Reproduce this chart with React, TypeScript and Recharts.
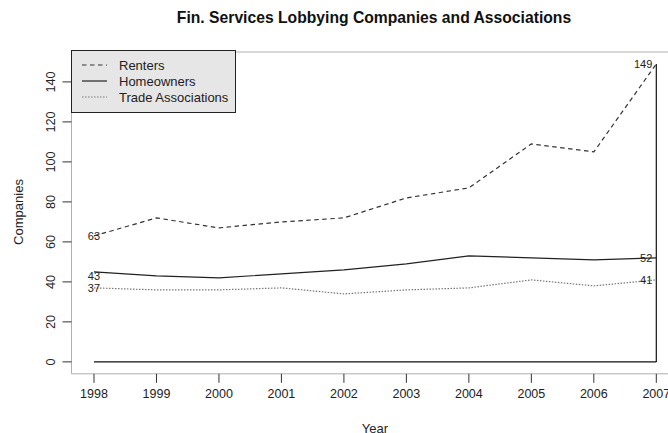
import {
  ComposedChart,
  Line,
  XAxis,
  YAxis,
  ReferenceArea,
  ReferenceLine,
  ReferenceDot,
  Legend,
} from "recharts";

const years = [1998, 1999, 2000, 2001, 2002, 2003, 2004, 2005, 2006, 2007];
const renters = [63, 72, 67, 70, 72, 82, 87, 109, 105, 149];
const homeowners = [45, 43, 42, 44, 46, 49, 53, 52, 51, 52];
const tradeAssociations = [37, 36, 36, 37, 34, 36, 37, 41, 38, 41];

const yTicks = [0, 20, 40, 60, 80, 100, 120, 140];

// text labels at the start and end of the series
const startLabels = [63, 43, 37];
const endLabels = [149, 52, 41];

// the black corner (baseline at 0 and vertical at the last year)
const baseline = [
  { x: 1998, y: 0 },
  { x: 2007, y: 0 },
];
const endMarker = [
  { x: 2007, y: 0 },
  { x: 2007, y: 149 },
];

const data = years.map((year, i) => ({
  year,
  renters: renters[i],
  homeowners: homeowners[i],
  trade: tradeAssociations[i],
}));

const FONT = "'Liberation Sans', Arial, Helvetica, sans-serif";

// R-style 4% padding on both axes
const xPad = (years[years.length - 1] - years[0]) * 0.04;
const yMax = Math.max(...renters);
const yPad = yMax * 0.04;
const xDomain = [years[0] - xPad, years[years.length - 1] + xPad];
const yDomain = [-yPad, yMax + yPad];

const XTick = (props: any) => {
  const { x, y, payload } = props;
  return (
    <text x={x} y={y + 13} textAnchor="middle" fontSize={12.5} fill="#222" fontFamily={FONT}>
      {payload.value}
    </text>
  );
};

const YTick = (props: any) => {
  const { x, y, payload } = props;
  const cx = x - 9;
  return (
    <text
      x={cx}
      y={y}
      transform={`rotate(-90, ${cx}, ${y})`}
      textAnchor="middle"
      dominantBaseline="central"
      fontSize={12.7}
      fill="#222"
      fontFamily={FONT}
    >
      {payload.value}
    </text>
  );
};

const legendItems = [
  { label: "Renters", stroke: "#333", dash: "4.5 3.5" },
  { label: "Homeowners", stroke: "#222", dash: undefined },
  { label: "Trade Associations", stroke: "#777", dash: "1.5 1.5" },
];

const renderLegend = () => (
  <div
    style={{
      width: 163,
      height: 61,
      background: "#e6e6e6",
      border: "1px solid #222",
      boxSizing: "content-box",
    }}
  >
    <svg width={163} height={61}>
      {legendItems.map((item, i) => (
        <g key={item.label}>
          <line
            x1={10}
            x2={35}
            y1={14 + i * 16}
            y2={14 + i * 16}
            stroke={item.stroke}
            strokeWidth={1.2}
            strokeDasharray={item.dash}
          />
          <text
            x={47}
            y={14 + i * 16}
            dominantBaseline="central"
            fontSize={13}
            fill="#222"
            fontFamily={FONT}
          >
            {item.label}
          </text>
        </g>
      ))}
    </svg>
  </div>
);

export default function App() {
  return (
    <div
      style={{
        position: "fixed",
        top: 0,
        left: 0,
        width: 668,
        height: 433,
        overflow: "hidden",
        background: "#fff",
        fontFamily: FONT,
      }}
    >
      <div
        style={{
          position: "absolute",
          top: 9,
          left: 0,
          width: 748,
          textAlign: "center",
          fontSize: 15.7,
          fontWeight: "bold",
          color: "#111",
        }}
      >
        Fin. Services Lobbying Companies and Associations
      </div>
      <svg
        width={668}
        height={433}
        style={{ position: "absolute", top: 0, left: 0, pointerEvents: "none" }}
      >
        <text
          x={18}
          y={212}
          transform="rotate(-90, 18, 212)"
          textAnchor="middle"
          dominantBaseline="central"
          fontSize={13}
          fill="#222"
          fontFamily={FONT}
        >
          Companies
        </text>
        <text
          x={375}
          y={428}
          textAnchor="middle"
          dominantBaseline="central"
          fontSize={13}
          fill="#222"
          fontFamily={FONT}
        >
          Year
        </text>
      </svg>
      <div style={{ position: "absolute", top: 0, left: 0 }}>
        <ComposedChart
          width={700}
          height={433}
          data={data}
          margin={{ top: 52, right: 21.2, bottom: 29.2, left: 11.5 }}
        >
          <XAxis
            dataKey="year"
            type="number"
            domain={xDomain}
            ticks={years}
            allowDataOverflow
            axisLine={false}
            tickLine={{ stroke: "#333" }}
            tickSize={9}
            tick={<XTick />}
            height={30}
            interval={0}
          />
          <YAxis
            type="number"
            domain={yDomain}
            ticks={yTicks}
            allowDataOverflow
            axisLine={false}
            tickLine={{ stroke: "#333" }}
            tickSize={9}
            tick={<YTick />}
            width={60}
            interval={0}
          />
          <ReferenceArea
            x1={xDomain[0]}
            x2={xDomain[1]}
            y1={yDomain[0]}
            y2={yDomain[1]}
            fill="none"
            fillOpacity={0}
            stroke="#b0b0b0"
            strokeWidth={1}
            ifOverflow="visible"
          />
          <ReferenceLine segment={baseline} stroke="#111" strokeWidth={1.2} />
          <ReferenceLine segment={endMarker} stroke="#111" strokeWidth={1.2} />
          <Line
            type="linear"
            dataKey="renters"
            stroke="#333"
            strokeWidth={1.2}
            strokeDasharray="4.5 3.5"
            dot={false}
            isAnimationActive={false}
          />
          <Line
            type="linear"
            dataKey="homeowners"
            stroke="#222"
            strokeWidth={1.2}
            dot={false}
            isAnimationActive={false}
          />
          <Line
            type="linear"
            dataKey="trade"
            stroke="#777"
            strokeWidth={1.2}
            strokeDasharray="1.5 1.5"
            dot={false}
            isAnimationActive={false}
          />
          {startLabels.map((v) => (
            <ReferenceDot
              key={`s${v}`}
              x={years[0]}
              y={v}
              r={0}
              fill="none"
              stroke="none"
              label={{ value: v, position: "center", fontSize: 11, fill: "#222", fontFamily: FONT }}
            />
          ))}
          {endLabels.map((v) => (
            <ReferenceDot
              key={`e${v}`}
              x={years[years.length - 1]}
              y={v}
              r={0}
              fill="none"
              stroke="none"
              label={{ value: v, position: "left", offset: 4, fontSize: 11, fill: "#222", fontFamily: FONT }}
            />
          ))}
          <Legend
            layout="vertical"
            align="center"
            verticalAlign="middle"
            content={renderLegend}
            wrapperStyle={{ left: 71, top: 50, width: 165, height: 63 }}
          />
        </ComposedChart>
      </div>
    </div>
  );
}
